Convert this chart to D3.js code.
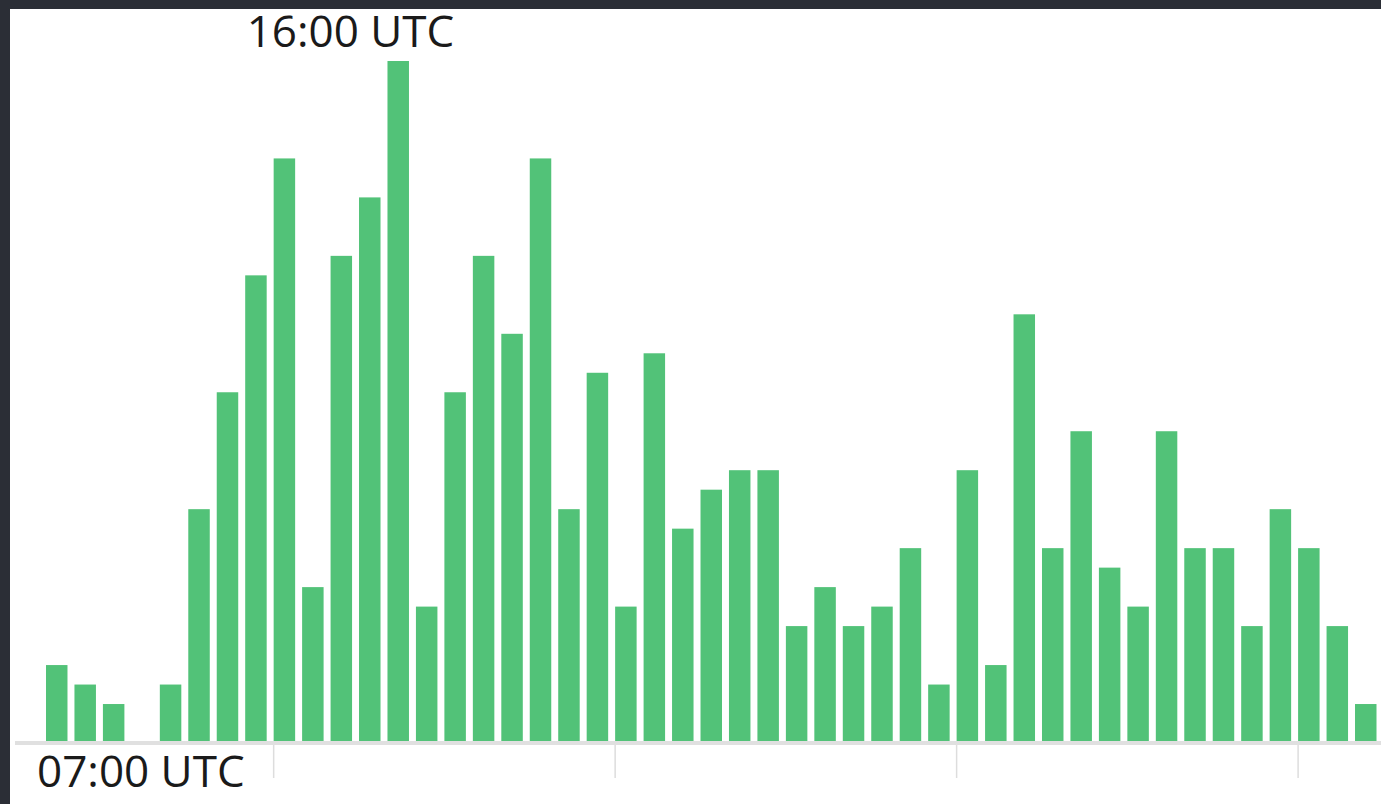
<!DOCTYPE html>
<html>
<head>
<meta charset="utf-8">
<script src="https://cdn.jsdelivr.net/npm/d3@7"></script>
<style>
  html, body { margin: 0; padding: 0; background: #2b2e36; overflow: hidden; }
  svg { display: block; }
</style>
</head>
<body>
<div class="visHolder"></div>
<script>
const w = 1381, h = 804;

// bar counts, one per slot starting at 07:00 UTC
const counts = [4, 3, 2, 0, 3, 12, 18, 24, 30, 8, 25, 28, 35, 7, 18, 25, 21, 30, 12, 19,
                7, 20, 11, 13, 14, 14, 6, 8, 6, 7, 10, 3, 14, 4, 22, 10, 16, 9, 7, 16,
                10, 10, 6, 12, 10, 6, 2];
const slots = counts.map((d, i) => i);
const tickSlots = [8, 20, 32, 44];
const startLabel = '07:00 UTC';
const peakLabel = '16:00 UTC';
const peakSlot = 12;

const svg = d3.select('.visHolder')
  .append('svg')
  .attr('width', w)
  .attr('height', h);

// white panel inside the dark frame
svg.append('rect')
  .attr('x', 10)
  .attr('y', 9)
  .attr('width', w - 10)
  .attr('height', h - 9)
  .attr('fill', '#ffffff');

const xScale = d3.scaleBand()
  .domain(slots)
  .range([46, 1376.5])
  .paddingInner(0.245)
  .paddingOuter(0);

const yScale = d3.scaleLinear()
  .domain([0, 35])
  .range([743, 61]);

svg.append('g')
  .selectAll('rect')
  .data(counts)
  .join('rect')
    .attr('x', (d, i) => xScale(i))
    .attr('y', d => yScale(d))
    .attr('width', xScale.bandwidth())
    .attr('height', d => yScale(0) - yScale(d))
    .attr('fill', '#52c278');

// baseline
svg.append('line')
  .attr('x1', 15)
  .attr('x2', w)
  .attr('y1', yScale(0))
  .attr('y2', yScale(0))
  .attr('stroke', '#e0e0e0')
  .attr('stroke-width', 4);

// ticks sit on the left edge of every 12th bar
svg.append('g')
  .selectAll('line')
  .data(tickSlots)
  .join('line')
    .attr('x1', d => xScale(d))
    .attr('x2', d => xScale(d))
    .attr('y1', yScale(0) + 2)
    .attr('y2', yScale(0) + 35)
    .attr('stroke', '#dddddd')
    .attr('stroke-width', 1.5);

svg.append('text')
  .attr('x', xScale(0) - 9)
  .attr('y', yScale(0) + 44)
  .attr('font-family', '"Open Sans", sans-serif')
  .attr('font-size', 44)
  .attr('fill', '#1a1a1a')
  .text(startLabel);

svg.append('text')
  .attr('x', xScale(peakSlot) - 37)
  .attr('y', 47)
  .attr('text-anchor', 'middle')
  .attr('font-family', '"Open Sans", sans-serif')
  .attr('font-size', 44)
  .attr('fill', '#1a1a1a')
  .text(peakLabel);
</script>
</body>
</html>
